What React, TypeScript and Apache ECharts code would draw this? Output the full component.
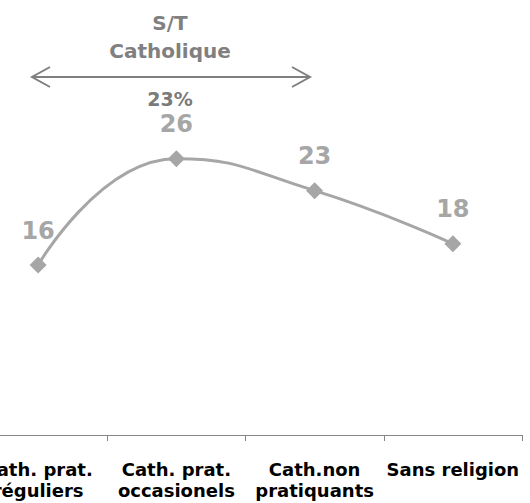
import React, { useEffect, useRef } from "react";
import * as echarts from "echarts";

const categories = [
  "Cath. prat.\nréguliers",
  "Cath. prat.\noccasionels",
  "Cath.non\npratiquants",
  "Sans religion",
];
const values = [16, 26, 23, 18];
const annotationTitle = "S/T\nCatholique";
const annotationValue = "23%";

const FONT = "'DejaVu Sans', sans-serif";
const SHIFT = 31; // chart canvas extends off the left edge of the page

export default function App() {
  const ref = useRef<HTMLDivElement>(null);
  useEffect(() => {
    if (!ref.current) return;
    const chart = echarts.init(ref.current, null, { renderer: "svg" });
    chart.setOption({
      animation: false,
      backgroundColor: "#ffffff",
      grid: { left: 0, right: 8, top: 10, bottom: 68, containLabel: false },
      xAxis: {
        type: "category",
        data: categories,
        boundaryGap: true,
        axisLine: { show: true, lineStyle: { color: "#868686", width: 1 } },
        axisTick: { show: true, length: 6, lineStyle: { color: "#868686" } },
        axisLabel: {
          interval: 0,
          hideOverlap: false,
          margin: 24,
          color: "#000000",
          fontFamily: FONT,
          fontWeight: "bold",
          fontSize: 18,
          lineHeight: 21,
        },
        splitLine: { show: false },
      },
      yAxis: {
        type: "value",
        min: 0,
        max: 40,
        show: false,
        splitLine: { show: false },
      },
      series: [
        {
          type: "line",
          data: values,
          smooth: 0.5,
          symbol: "diamond",
          symbolSize: 17,
          itemStyle: { color: "#a6a6a6" },
          lineStyle: { color: "#a6a6a6", width: 3 },
          label: {
            show: true,
            position: "top",
            distance: 14,
            color: "#a6a6a6",
            fontFamily: FONT,
            fontWeight: "bold",
            fontSize: 24,
          },
        },
      ],
      graphic: [
        {
          type: "text",
          x: 170 + SHIFT,
          y: 37,
          style: {
            text: annotationTitle,
            fill: "#808080",
            font: `bold 20px ${FONT}`,
            lineHeight: 28,
            align: "center",
            verticalAlign: "middle",
          },
        },
        {
          type: "line",
          shape: { x1: 32 + SHIFT, y1: 77, x2: 310 + SHIFT, y2: 77 },
          style: { stroke: "#7f7f7f", lineWidth: 2 },
        },
        {
          type: "polyline",
          shape: { points: [[50 + SHIFT, 67], [32 + SHIFT, 77], [50 + SHIFT, 87]] },
          style: { stroke: "#7f7f7f", lineWidth: 2, fill: "none" },
        },
        {
          type: "polyline",
          shape: { points: [[292 + SHIFT, 67], [310 + SHIFT, 77], [292 + SHIFT, 87]] },
          style: { stroke: "#7f7f7f", lineWidth: 2, fill: "none" },
        },
        {
          type: "text",
          x: 170 + SHIFT,
          y: 99,
          style: {
            text: annotationValue,
            fill: "#7a7a7a",
            font: `bold 19px ${FONT}`,
            align: "center",
            verticalAlign: "middle",
          },
        },
      ],
    });
    return () => chart.dispose();
  }, []);
  return (
    <div
      ref={ref}
      style={{ position: "absolute", left: -SHIFT, top: 0, width: 530 + SHIFT, height: 503 }}
    />
  );
}
